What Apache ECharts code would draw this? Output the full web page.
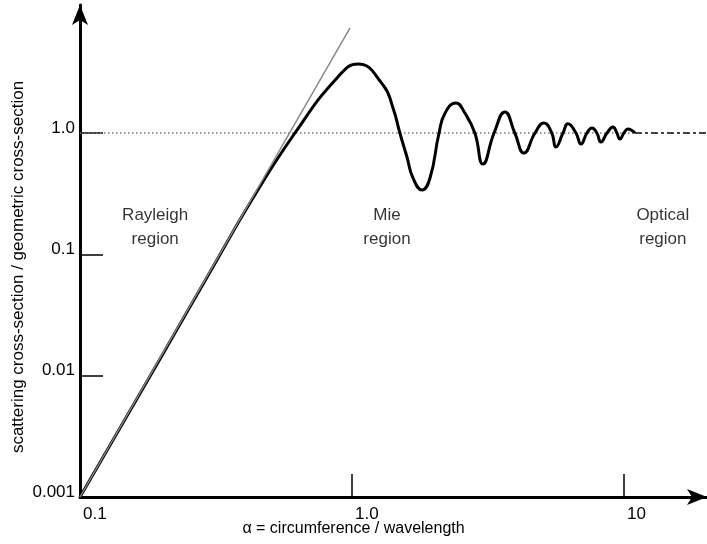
<!DOCTYPE html>
<html>
<head>
<meta charset="utf-8">
<script src="https://cdn.jsdelivr.net/npm/echarts@6/dist/echarts.min.js"></script>
<style>
html,body{margin:0;padding:0;background:#fff;}
#chart{width:707px;height:544px;}
</style>
</head>
<body>
<div id="chart"></div>
<script>
// size parameter alpha (x) and normalised scattering cross-section (y)
const alpha = [0.1, 0.2, 0.3, 0.4325, 0.617, 0.881, 1.052, 1.30, 1.415, 1.50, 1.593, 1.676, 1.81, 1.936, 2.09, 2.20, 2.41, 2.60, 2.83, 3.03, 3.33, 3.65, 3.97, 4.29, 4.71, 5.08, 5.43, 5.62, 5.97, 6.22, 6.66, 6.95, 7.31, 7.63, 7.95, 8.23, 8.66, 9.11, 9.42, 9.66, 10.0, 10.34, 10.98];
const sigma = [0.001, 0.0146, 0.071, 0.291, 1.0, 2.84, 3.70, 2.49, 1.61, 1.0, 0.634, 0.426, 0.339, 0.426, 1.0, 1.46, 1.77, 1.46, 1.0, 0.555, 1.0, 1.49, 1.0, 0.684, 1.0, 1.21, 1.0, 0.767, 1.0, 1.19, 1.0, 0.812, 1.0, 1.10, 1.0, 0.843, 1.0, 1.12, 1.0, 0.892, 1.0, 1.08, 1.0];
// Rayleigh asymptote (thin grey line)
const rayleighAlpha = [0.1, 0.984];
const rayleighSigma = [0.001, 7.34];
// geometric limit (sigma = 1)
const dottedAlpha = [0.1, 10.98];
const dashedAlpha = [10.98, 20.2];
const geomLimit = 1.0;
// axis ticks / labels
const xTickValues = [1, 10];
const xLabelValues = [0.1, 1, 10];
const yTickValues = [0.01, 0.1, 1];
const yLabelValues = [0.001, 0.01, 0.1, 1];
const labelText = {'-3':'0.001','-2':'0.01','-1':'0.1','0':'1.0','1':'10'};
// region annotations
const regionNames = ['Rayleigh\nregion', 'Mie\nregion', 'Optical\nregion'];
const regionAlpha = [0.189, 1.345, 13.9];
const regionSigma = [0.168, 0.168, 0.168];

const xMin = 0.1, xMax = 20.2, yMin = 0.001, yMax = 11.35;

function fmt(v){ return labelText[String(Math.round(Math.log10(v)))] || ''; }

const chart = echarts.init(document.getElementById('chart'), null, {renderer:'canvas'});
const font = 'Liberation Sans, Arial, sans-serif';
const txt = '#000';

const option = {
  animation: false,
  backgroundColor: '#fff',
  grid: {left: 80, right: 0, top: 5, bottom: 47, outerBoundsMode: 'none', containLabel: false},
  xAxis: {
    type: 'log', logBase: 10, min: xMin, max: xMax,
    name: 'α = circumference / wavelength', nameLocation: 'middle', nameGap: 24, nameMoveOverlap: false,
    nameTextStyle: {fontFamily: font, fontSize: 16, color: txt, padding: [0, 80, 0, 0]},
    axisLine: {show: true, lineStyle: {color: '#000', width: 3}, symbol: ['none', 'arrow'], symbolSize: [12, 20]},
    axisTick: {show: true, inside: true, length: 23, lineStyle: {color: '#000', width: 1.5}, customValues: xTickValues},
    axisLabel: {show: true, customValues: xLabelValues, formatter: fmt, align: 'left', margin: 9, padding: [0,0,0,3], fontFamily: font, fontSize: 17, color: txt},
    splitLine: {show: false}, minorTick: {show: false}
  },
  yAxis: {
    type: 'log', logBase: 10, min: yMin, max: yMax,
    name: 'scattering cross-section / geometric cross-section', nameLocation: 'middle', nameGap: 53, nameMoveOverlap: false,
    nameTextStyle: {fontFamily: font, fontSize: 17, color: txt, padding: [0, 32, 0, 0]},
    axisLine: {show: true, lineStyle: {color: '#000', width: 3}, symbol: ['none', 'arrow'], symbolSize: [12, 20]},
    axisTick: {show: true, inside: true, length: 23, lineStyle: {color: '#000', width: 1.5}, customValues: yTickValues},
    axisLabel: {show: true, customValues: yLabelValues, formatter: fmt, verticalAlign: 'bottom', lineHeight: 10, margin: 5, fontFamily: font, fontSize: 17, color: txt},
    splitLine: {show: false}, minorTick: {show: false}
  },
  series: [
    {
      type: 'line', name: 'dotted', symbol: 'none', silent: true, z: 1,
      data: dottedAlpha.map(a => [a, geomLimit]),
      lineStyle: {color: '#777', width: 1.5, type: [1.5, 2.5]}
    },
    {
      type: 'line', name: 'dashed', symbol: 'none', silent: true, z: 1, clip: false,
      data: dashedAlpha.map(a => [a, geomLimit]),
      lineStyle: {color: '#444', width: 2, type: [7, 3, 3, 3]}
    },
    {
      type: 'line', name: 'mie', symbol: 'none', silent: true, z: 3, smooth: 0.5,
      data: alpha.map((a, i) => [a, sigma[i]]),
      lineStyle: {color: '#000', width: 3}
    },
    {
      type: 'line', name: 'rayleigh', symbol: 'none', silent: true, z: 4,
      data: rayleighAlpha.map((a, i) => [a, rayleighSigma[i]]),
      lineStyle: {color: '#888', width: 1.5}
    },
    {
      type: 'scatter', name: 'regions', symbolSize: 0, silent: true,
      data: regionAlpha.map((a, i) => ({value: [a, regionSigma[i]], name: regionNames[i]})),
      label: {show: true, position: 'inside', formatter: p => p.name, fontFamily: font, fontSize: 17, color: txt, lineHeight: 24, align: 'center'}
    }
  ]
};
chart.setOption(option);
</script>
</body>
</html>
